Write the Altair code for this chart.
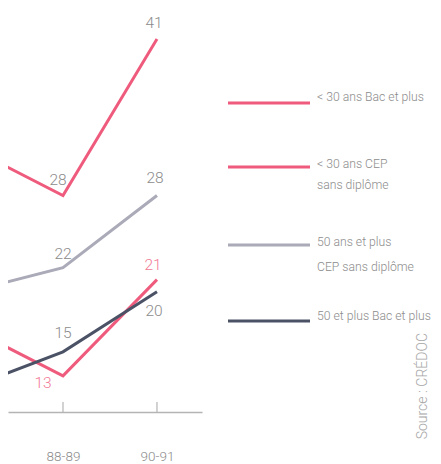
import json
import altair as alt
import pandas as pd

# ---- data ----
periods = ["86-87", "88-89", "90-91"]
series_names = [
    "< 30 ans Bac et plus",
    "< 30 ans CEP sans diplôme",
    "50 ans et plus CEP sans diplôme",
    "50 et plus Bac et plus",
]
bac30 = [32, 28, 41]
cep30 = [17, 13, 21]
cep50 = [20, 22, 28]
bac50 = [12, 15, 20]
legend_lines = [
    ["< 30 ans Bac et plus"],
    ["< 30 ans CEP", "sans diplôme"],
    ["50 ans et plus", "CEP sans diplôme"],
    ["50 et plus Bac et plus"],
]
source_text = "Source : CRÉDOC"

# ---- styles ----
PINK = "#ef5b7d"
GRAY_LINE = "#aaaab8"
DARK = "#4b5266"
TXT = "#8c8c8c"
colors = [PINK, PINK, GRAY_LINE, DARK]
widths = [3, 3, 2.5, 3.5]
FONT = "Roboto"
FW = 300

rows = []
for name, vals in zip(series_names, [bac30, cep30, cep50, bac50]):
    for i, (p, v) in enumerate(zip(periods, vals)):
        rows.append({"serie": name, "idx": i, "periode": p, "valeur": v})
df = pd.DataFrame(rows)

x_scale = alt.Scale(domain=[0.415, 2.479], nice=False, zero=False)
y_scale = alt.Scale(domain=[10, 43.583], nice=False, zero=False)
label_expr = json.dumps(periods) + "[datum.value]"

x_axis = alt.Axis(
    values=list(range(1, len(periods))),
    labelExpr=label_expr,
    ticks=False,
    domain=True,
    domainColor="#b4b4b4",
    domainWidth=1.5,
    grid=False,
    labelPadding=44,
    labelBaseline="middle",
    labelFont=FONT,
    labelFontWeight=FW,
    labelFontSize=13.5,
    labelColor=TXT,
    title=None,
)

base = alt.Chart(df)

lines = base.mark_line(clip=True, strokeJoin="miter").encode(
    x=alt.X("idx:Q", scale=x_scale, axis=x_axis),
    y=alt.Y("valeur:Q", scale=y_scale, axis=None),
    color=alt.Color("serie:N", scale=alt.Scale(domain=series_names, range=colors), legend=None),
    strokeWidth=alt.StrokeWidth("serie:N", scale=alt.Scale(domain=series_names, range=widths), legend=None),
    detail="serie:N",
)

ticks = alt.Chart(pd.DataFrame({"idx": list(range(len(periods)))})).mark_rule(
    color="#b4b4b4", strokeWidth=1.2, clip=True
).encode(
    x=alt.X("idx:Q", scale=x_scale),
    y=alt.value(394),
    y2=alt.value(404),
)

# (series index, period index, dx, dy, colour)
label_specs = [
    (0, 2, -3, -16, TXT),
    (0, 1, -5, -15, TXT),
    (2, 2, -2, -17, TXT),
    (2, 1, 0, -14, TXT),
    (1, 2, -4, -15, "#f27a95"),
    (3, 2, -3, 19, TXT),
    (3, 1, 0, -19, TXT),
    (1, 1, -20, 7, "#f27a95"),
]
label_layers = []
for s, i, dx, dy, col in label_specs:
    sub = df[(df["serie"] == series_names[s]) & (df["idx"] == i)]
    label_layers.append(
        alt.Chart(sub).mark_text(
            dx=dx, dy=dy, font=FONT, fontWeight=FW, fontSize=15.5, color=col, baseline="middle"
        ).encode(
            x=alt.X("idx:Q", scale=x_scale),
            y=alt.Y("valeur:Q", scale=y_scale),
            text=alt.Text("valeur:Q"),
        )
    )

# legend drawn by hand
legend_rule_y = [95, 159, 237, 313]
legend_text_y = [[89], [156, 177], [234, 259], [308]]
legend_layers = []
for k, name in enumerate(series_names):
    legend_layers.append(
        alt.Chart(pd.DataFrame({"serie": [name]})).mark_rule(
            color=colors[k], strokeWidth=3
        ).encode(x=alt.value(220), x2=alt.value(302), y=alt.value(legend_rule_y[k]))
    )
    for txt, ty in zip(legend_lines[k], legend_text_y[k]):
        legend_layers.append(
            alt.Chart(pd.DataFrame({"t": [txt]})).mark_text(
                align="left", baseline="middle", font=FONT, fontWeight=FW,
                fontSize=12.2, color=TXT
            ).encode(x=alt.value(309), y=alt.value(ty), text="t:N")
        )

src = alt.Chart(pd.DataFrame({"t": [source_text]})).mark_text(
    angle=270, align="right", baseline="middle", font=FONT, fontWeight=FW,
    fontSize=14, color="#a6a6a6"
).encode(x=alt.value(415), y=alt.value(325), text="t:N")

chart = alt.layer(
    ticks, lines, *label_layers, *legend_layers, src
).properties(
    width=194,
    height=404,
    autosize="none",
    padding={"left": 0, "top": 0, "right": 231, "bottom": 52},
    background="white",
).configure_view(stroke=None)

chart.save("out.html", embed_options={"renderer": "svg", "actions": False})
